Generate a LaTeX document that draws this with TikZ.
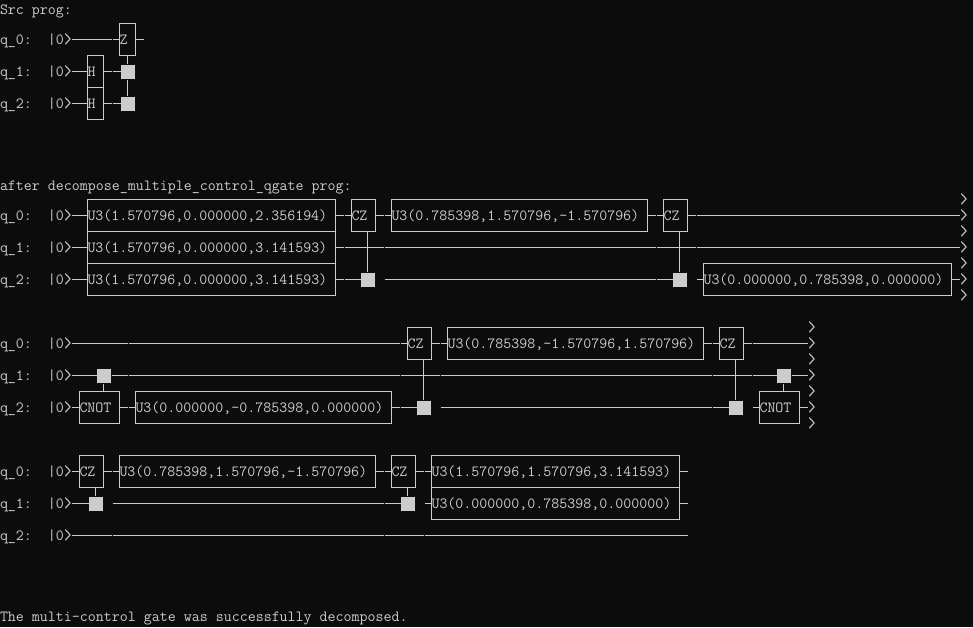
\documentclass[tikz,border=0pt]{standalone}
\usepackage{fontspec}
\usetikzlibrary{calc}
\definecolor{consolebg}{RGB}{12,12,12}
\definecolor{consolefg}{RGB}{204,204,204}
\newcommand{\consolefont}{\ttfamily\fontsize{15.52}{16}\selectfont}
\newcommand{\tallgt}{\makebox[8pt]{\raisebox{-1.5pt}{\scalebox{0.9}[1.5]{>}}}}

\begin{document}
\begin{tikzpicture} [x = 1pt, y = -1pt, line width = 1pt, draw = consolefg, text = consolefg, font = \consolefont,
  txt/.style = {anchor = west, inner sep = 0pt, outer sep = 0pt, text height = 12pt, text depth = 2pt},
  gate/.style = {txt, draw, text width = #1 pt, align = left, minimum height = 32pt},
  ctl/.style = {draw, fill = consolefg, inner sep = 0pt, outer sep = 0pt, line width = 0pt, minimum size = 13pt},
  gapnode/.style = {inner sep = 0pt, outer sep = 0pt, minimum width = 1pt, minimum height = 1pt},
  chev/.style = {inner sep = 0pt, outer sep = 0pt, minimum width = 8pt}]

\path [use as bounding box, fill = consolebg] (0,0) rectangle (973,627);

% source program
\node [txt] (src) at (0,9) {Src prog:};
\node [txt] (a) at (0,39.5) {q\_0:\ \ |0\tallgt};
\node [txt] (b) at (0,71.5) {q\_1:\ \ |0\tallgt};
\node [txt] (c) at (0,103.5) {q\_2:\ \ |0\tallgt};

\node [gate=16] (az) at (119.5,39.5) {Z};
\node [gate=16] (bh) at (87.5,71.5) {H};
\node [gate=16] (ch) at (87.5,103.5) {H};
\node [ctl] (bc) at (127.5,71.5) {};
\node [ctl] (cc) at (127.5,103.5) {};

\node [gapnode] (a112) at (112,39.5) {};
\node [gapnode] (b112) at (112,71.5) {};
\node [gapnode] (c112) at (112,103.5) {};
\coordinate (aend) at (143.5,39.5);

\draw (a.east) -- (a112) -- (az) -- (aend);
\draw (b.east) -- (bh) -- (b112) -- (bc);
\draw (c.east) -- (ch) -- (c112) -- (cc);
\draw [shorten >= 1.5pt] (az) -- (bc);
\draw [shorten <= 1.5pt, shorten >= 1.5pt] (bc) -- (cc);

% after decompose, first block
\node [txt] (after) at (0,185) {after decompose\_multiple\_control\_qgate prog:};
\node [txt] (d) at (0,215.5) {q\_0:\ \ |0\tallgt};
\node [txt] (e) at (0,247.5) {q\_1:\ \ |0\tallgt};
\node [txt] (f) at (0,279.5) {q\_2:\ \ |0\tallgt};

\node [gate=248] (du1) at (87.5,215.5) {U3(1.570796,0.000000,2.356194)};
\node [gate=248] (eu1) at (87.5,247.5) {U3(1.570796,0.000000,3.141593)};
\node [gate=248] (fu1) at (87.5,279.5) {U3(1.570796,0.000000,3.141593)};
\node [gate=24] (dz1) at (351.5,215.5) {CZ};
\node [gate=256] (du2) at (391.5,215.5) {U3(0.785398,1.570796,-1.570796)};
\node [gate=24] (dz2) at (663.5,215.5) {CZ};
\node [gate=248] (fu2) at (703.5,279.5) {U3(0.000000,0.785398,0.000000)};
\node [ctl] (fc1) at (367.5,279.5) {};
\node [ctl] (fc2) at (679.5,279.5) {};

\foreach \r/\y in {d/215.5, e/247.5, f/279.5}
  \foreach \x in {344, 384, 656, 696}
    \node [gapnode] (\r\x) at (\x,\y) {};
\foreach \n in {0,...,6}
  \node [chev] (cd\n) at (964,{200.3+16*\n}) {\tallgt};

\draw (d.east) -- (du1) -- (d344) -- (dz1) -- (d384) -- (du2) -- (d656) -- (dz2) -- (d696) -- (d696 -| cd1.west);
\draw (e.east) -- (eu1) -- (e344) -- (e384) -- (e656) -- (e696) -- (e696 -| cd3.west);
\draw (f.east) -- (fu1) -- (f344) -- (fc1);
\draw (f384) -- (f656) -- (fc2);
\draw (f696) -- (fu2) -- (fu2.east -| cd5.west);
\draw [shorten >= 1.5pt] (dz1.south -| fc1) -- (fc1);
\draw [shorten >= 1.5pt] (dz2.south -| fc2) -- (fc2);

% second block
\node [txt] (g) at (0,343.5) {q\_0:\ \ |0\tallgt};
\node [txt] (h) at (0,375.5) {q\_1:\ \ |0\tallgt};
\node [txt] (i) at (0,407.5) {q\_2:\ \ |0\tallgt};

\node [gate=24] (gz1) at (407.5,343.5) {CZ};
\node [gate=256] (gu1) at (447.5,343.5) {U3(0.785398,-1.570796,1.570796)};
\node [gate=24] (gz2) at (719.5,343.5) {CZ};
\node [gate=40] (in1) at (79.5,407.5) {CNOT};
\node [gate=256] (iu1) at (135.5,407.5) {U3(0.000000,-0.785398,0.000000)};
\node [gate=40] (in2) at (759.5,407.5) {CNOT};
\node [ctl] (hc1) at (103.5,375.5) {};
\node [ctl] (hc2) at (783.5,375.5) {};
\node [ctl] (ic1) at (423.5,407.5) {};
\node [ctl] (ic2) at (735.5,407.5) {};

\foreach \r/\y in {g/343.5, h/375.5, i/407.5}
  \foreach \x in {128, 400, 440, 712, 752}
    \node [gapnode] (\r\x) at (\x,\y) {};
\foreach \n in {0,...,6}
  \node [chev] (ce\n) at (812,{328.3+16*\n}) {\tallgt};

\draw (g.east) -- (g128) -- (g400) -- (gz1) -- (g440) -- (gu1) -- (g712) -- (gz2) -- (g752) -- (g752 -| ce1.west);
\draw (h.east) -- (hc1);
\draw [shorten <= 2pt] (hc1) -- (h128);
\draw (h128) -- (h400) -- (h440) -- (h712) -- (h752) -- (hc2);
\draw [shorten <= 2pt] (hc2) -- (hc2 -| ce3.west);
\draw (i.east) -- (in1) -- (i128) -- (iu1) -- (i400) -- (ic1);
\draw (i440) -- (i712) -- (ic2);
\draw (i752) -- (in2) -- (in2.east -| ce5.west);
\draw [shorten >= 1pt] (gz1.south -| ic1) -- (ic1);
\draw [shorten >= 1pt] (gz2.south -| ic2) -- (ic2);
\draw [shorten <= 2pt] (hc1) -- (in1.north -| hc1);
\draw [shorten <= 2pt] (hc2) -- (in2.north -| hc2);

% third block
\node [txt] (j) at (0,471.5) {q\_0:\ \ |0\tallgt};
\node [txt] (k) at (0,503.5) {q\_1:\ \ |0\tallgt};
\node [txt] (l) at (0,535.5) {q\_2:\ \ |0\tallgt};

\node [gate=24] (jz1) at (79.5,471.5) {CZ};
\node [gate=256] (ju1) at (119.5,471.5) {U3(0.785398,1.570796,-1.570796)};
\node [gate=24] (jz2) at (391.5,471.5) {CZ};
\node [gate=248] (ju2) at (431.5,471.5) {U3(1.570796,1.570796,3.141593)};
\node [gate=248] (ku1) at (431.5,503.5) {U3(0.000000,0.785398,0.000000)};
\node [ctl] (kc1) at (95.5,503.5) {};
\node [ctl] (kc2) at (407.5,503.5) {};

\foreach \r/\y in {j/471.5, k/503.5, l/535.5}
  \foreach \x in {112, 384, 424}
    \node [gapnode] (\r\x) at (\x,\y) {};
\coordinate (jend) at (687.5,471.5);
\coordinate (kend) at (687.5,503.5);
\coordinate (lend) at (687.5,535.5);

\draw (j.east) -- (jz1) -- (j112) -- (ju1) -- (j384) -- (jz2) -- (j424) -- (ju2) -- (jend);
\draw (k.east) -- (kc1);
\draw (k112) -- (k384) -- (kc2);
\draw (k424) -- (ku1) -- (kend);
\draw (l.east) -- (l112) -- (l384) -- (l424) -- (lend);
\draw [shorten >= 1.5pt] (jz1.south -| kc1) -- (kc1);
\draw [shorten >= 1.5pt] (jz2.south -| kc2) -- (kc2);

\node [txt] (done) at (0,616.5) {The multi-control gate was successfully decomposed.};

\end{tikzpicture}
\end{document}
